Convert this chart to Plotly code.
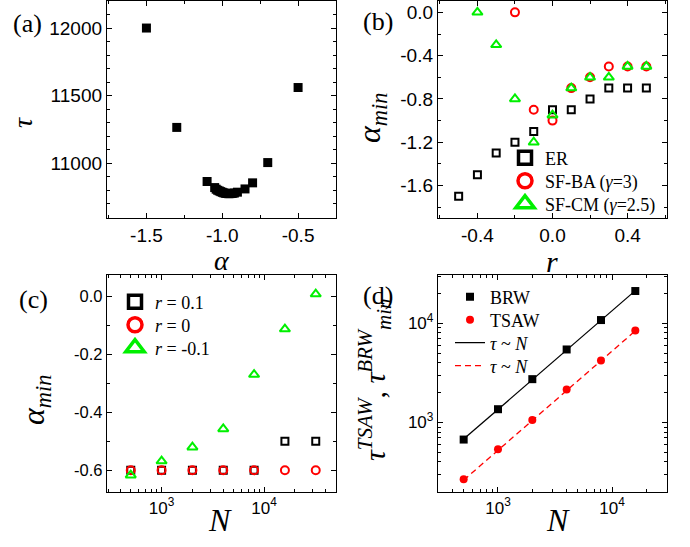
import plotly.graph_objects as go

# ---------------- data ----------------
# (a) tau vs alpha
a_alpha = [-1.5, -1.3, -1.1, -1.05, -1.04, -1.03, -1.02, -1.01, -1.0, -0.99, -0.98, -0.97,
           -0.96, -0.95, -0.94, -0.93, -0.92, -0.9, -0.85, -0.8, -0.7, -0.5]
a_tau = [12000, 11265, 10865, 10820, 10808, 10800, 10795, 10790, 10785, 10781, 10778, 10776,
         10775, 10775, 10776, 10778, 10780, 10786, 10810, 10855, 11005, 11560]

# (b) alpha_min vs r
b_r_er = [-0.5, -0.4, -0.3, -0.2, -0.1, 0.0, 0.1, 0.2, 0.3, 0.4, 0.5]
b_er = [-1.7, -1.5, -1.3, -1.2, -1.1, -0.9, -0.9, -0.8, -0.7, -0.7, -0.7]
b_r_ba = [-0.2, -0.1, 0.0, 0.1, 0.2, 0.3, 0.4, 0.5]
b_ba = [0.0, -0.9, -1.0, -0.7, -0.6, -0.5, -0.5, -0.5]
b_r_cm = [-0.4, -0.3, -0.2, -0.1, 0.0, 0.1, 0.2, 0.3, 0.4, 0.5]
b_cm = [0.0, -0.3, -0.8, -1.2, -0.95, -0.7, -0.6, -0.6, -0.5, -0.5]

# (c) alpha_min vs N
c_N = [500, 1000, 2000, 4000, 8000, 16000, 32000]
c_r01 = [-0.6, -0.6, -0.6, -0.6, -0.6, -0.5, -0.5]
c_r0 = [-0.6, -0.6, -0.6, -0.6, -0.6, -0.6, -0.6]
c_rm01 = [-0.617, -0.568, -0.52, -0.457, -0.269, -0.112, 0.009]

# (d) tau_min vs N
d_N = [500, 1000, 2000, 4000, 8000, 16000]
d_brw = [673, 1362, 2737, 5455, 10800, 21200]
d_tsaw = [267, 537, 1062, 2152, 4229, 8490]
d_fit_N = [500, 16000]
d_fit_brw = [680, 21400]
d_fit_tsaw = [262, 8400]

# tick labels
a_xticks = [-1.5, -1.0, -0.5]
a_xtext = ["-1.5", "-1.0", "-0.5"]
a_yticks = [11000, 11500, 12000]
a_ytext = ["11000", "11500", "12000"]
b_xticks = [-0.4, 0.0, 0.4]
b_xtext = ["-0.4", "0.0", "0.4"]
b_yticks = [-1.6, -1.2, -0.8, -0.4, 0.0]
b_ytext = ["-1.6", "-1.2", "-0.8", "-0.4", "0.0"]
c_yticks = [-0.6, -0.4, -0.2, 0.0]
c_ytext = ["-0.6", "-0.4", "-0.2", "0.0"]
log_ticks = [1000, 10000]
log_text = ["10<sup>3</sup>", "10<sup>4</sup>"]

# legend entries
b_leg_names = ["ER", "SF-BA (<i>γ</i>=3)", "SF-CM (<i>γ</i>=2.5)"]
c_leg_names = ["<i>r</i> = 0.1", "<i>r</i> = 0", "<i>r</i> = -0.1"]
d_leg_names = ["BRW", "TSAW", "<i>τ</i> ~ <i>N</i>", "<i>τ</i> ~ <i>N</i>"]

# ---------------- styling ----------------
W, H = 690, 547
SANS = "Liberation Sans, Arial, sans-serif"
SERIF = "Liberation Serif, Times New Roman, serif"
RED = "#FF0000"
GREEN = "#00F000"


def dx(x0, x1):
    return [x0 / W, x1 / W]


def dy(y0, y1):
    return [1 - y1 / H, 1 - y0 / H]


fig = go.Figure()
legends = {}


def leg_id(k):
    return "legend" if k == 1 else "legend%d" % k


def add_legend(k, left_px, row_px):
    legends[leg_id(k)] = dict(x=left_px / W, y=1 - row_px / H, xanchor="left", yanchor="middle",
                              bgcolor="rgba(0,0,0,0)",
                              font=dict(family=SERIF, size=18, color="black"),
                              itemsizing="trace")


# (a)
fig.add_trace(go.Scatter(x=a_alpha, y=a_tau, mode="markers", showlegend=False,
                         marker=dict(symbol="square", size=9, color="black"),
                         xaxis="x", yaxis="y"))

# (b)
fig.add_trace(go.Scatter(x=b_r_er, y=b_er, mode="markers", showlegend=False,
                         marker=dict(symbol="square-open", size=7, color="black", line=dict(width=2)),
                         xaxis="x2", yaxis="y2"))
fig.add_trace(go.Scatter(x=b_r_ba, y=b_ba, mode="markers", showlegend=False,
                         marker=dict(symbol="circle-open", size=8, color=RED, line=dict(width=2)),
                         xaxis="x2", yaxis="y2"))
fig.add_trace(go.Scatter(x=b_r_cm, y=b_cm, mode="markers", showlegend=False,
                         marker=dict(symbol="triangle-up-open", size=9, color=GREEN, line=dict(width=2)),
                         xaxis="x2", yaxis="y2"))
b_rows = [158, 181, 204]
for i, (sym, col, sz) in enumerate([("square-open", "black", 13),
                                    ("circle-open", RED, 14),
                                    ("triangle-up-open", GREEN, 16)]):
    k = 1 + i
    add_legend(k, 505, b_rows[i])
    fig.add_trace(go.Scatter(x=[None], y=[None], mode="markers", name=b_leg_names[i], legend=leg_id(k),
                             marker=dict(symbol=sym, size=sz, color=col, line=dict(width=3.5)),
                             xaxis="x2", yaxis="y2"))

# (c)
fig.add_trace(go.Scatter(x=c_N, y=c_r01, mode="markers", showlegend=False,
                         marker=dict(symbol="square-open", size=7, color="black", line=dict(width=2)),
                         xaxis="x3", yaxis="y3"))
fig.add_trace(go.Scatter(x=c_N, y=c_r0, mode="markers", showlegend=False,
                         marker=dict(symbol="circle-open", size=8, color=RED, line=dict(width=2)),
                         xaxis="x3", yaxis="y3"))
fig.add_trace(go.Scatter(x=c_N, y=c_rm01, mode="markers", showlegend=False,
                         marker=dict(symbol="triangle-up-open", size=9, color=GREEN, line=dict(width=2)),
                         xaxis="x3", yaxis="y3"))
c_rows = [302, 325, 348]
for i, (sym, col, sz) in enumerate([("square-open", "black", 13),
                                    ("circle-open", RED, 14),
                                    ("triangle-up-open", GREEN, 16)]):
    k = 4 + i
    add_legend(k, 115, c_rows[i])
    fig.add_trace(go.Scatter(x=[None], y=[None], mode="markers", name=c_leg_names[i], legend=leg_id(k),
                             marker=dict(symbol=sym, size=sz, color=col, line=dict(width=3.5)),
                             xaxis="x3", yaxis="y3"))

# (d)
d_rows = [297, 320, 343, 366]
for i in range(4):
    add_legend(7 + i, 450, d_rows[i])
fig.add_trace(go.Scatter(x=d_fit_N, y=d_fit_brw, mode="lines", showlegend=False,
                         line=dict(color="black", width=1.3), xaxis="x4", yaxis="y4"))
fig.add_trace(go.Scatter(x=d_fit_N, y=d_fit_tsaw, mode="lines", showlegend=False,
                         line=dict(color=RED, width=1.3, dash="6px,4px"), xaxis="x4", yaxis="y4"))
fig.add_trace(go.Scatter(x=d_N, y=d_brw, mode="markers", name=d_leg_names[0], legend=leg_id(7),
                         marker=dict(symbol="square", size=8, color="black"),
                         xaxis="x4", yaxis="y4"))
fig.add_trace(go.Scatter(x=d_N, y=d_tsaw, mode="markers", name=d_leg_names[1], legend=leg_id(8),
                         marker=dict(symbol="circle", size=8, color=RED),
                         xaxis="x4", yaxis="y4"))
fig.add_trace(go.Scatter(x=[None], y=[None], mode="lines", name=d_leg_names[2], legend=leg_id(9),
                         line=dict(color="black", width=1.3), xaxis="x4", yaxis="y4"))
fig.add_trace(go.Scatter(x=[None], y=[None], mode="lines", name=d_leg_names[3], legend=leg_id(10),
                         line=dict(color=RED, width=1.3, dash="6px,4px"), xaxis="x4", yaxis="y4"))


def axis_common(fs):
    return dict(showline=True, mirror="ticks", linecolor="black", linewidth=1.3,
                ticks="inside", ticklen=5, tickwidth=1.2, tickcolor="black",
                showgrid=False, zeroline=False,
                tickfont=dict(family=SANS, size=fs, color="black"))


minor_common = dict(ticks="inside", ticklen=3, tickcolor="black", tickwidth=1)

LX = dx(107, 336)
RX = dx(438, 667)
TY = dy(1, 218)
BY = dy(275, 492)

fig.update_layout(
    width=W, height=H,
    margin=dict(l=0, r=0, t=0, b=0),
    paper_bgcolor="white", plot_bgcolor="white",
    xaxis=dict(axis_common(19), domain=LX, anchor="y", range=[-1.76, -0.25],
               tickmode="array", tickvals=a_xticks, ticktext=a_xtext,
               minor=dict(minor_common, dtick=0.25, tick0=0)),
    yaxis=dict(axis_common(19), domain=TY, anchor="x", range=[10595, 12200],
               tickmode="array", tickvals=a_yticks, ticktext=a_ytext,
               minor=dict(minor_common, dtick=100, tick0=0)),
    xaxis2=dict(axis_common(19), domain=RX, anchor="y2", range=[-0.61, 0.61],
                tickmode="array", tickvals=b_xticks, ticktext=b_xtext,
                minor=dict(minor_common, dtick=0.2, tick0=0)),
    yaxis2=dict(axis_common(19), domain=TY, anchor="x2", range=[-1.9, 0.105],
                tickmode="array", tickvals=b_yticks, ticktext=b_ytext,
                minor=dict(minor_common, dtick=0.2, tick0=0)),
    xaxis3=dict(axis_common(17), domain=LX, anchor="y3", type="log", range=[2.467, 4.703],
                tickmode="array", tickvals=log_ticks, ticktext=log_text,
                minor=dict(minor_common, dtick="D1")),
    yaxis3=dict(axis_common(16.5), domain=BY, anchor="x3", range=[-0.675, 0.075],
                tickmode="array", tickvals=c_yticks, ticktext=c_ytext,
                minor=dict(minor_common, dtick=0.1, tick0=0)),
    xaxis4=dict(axis_common(17), domain=RX, anchor="y4", type="log", range=[2.474, 4.482],
                tickmode="array", tickvals=log_ticks, ticktext=log_text,
                minor=dict(minor_common, dtick="D1")),
    yaxis4=dict(axis_common(17), domain=BY, anchor="x4", type="log", range=[2.299, 4.488],
                tickmode="array", tickvals=log_ticks, ticktext=log_text,
                minor=dict(minor_common, dtick="D1")),
    **legends,
)


def ann(text, px, py, size, angle=0):
    fig.add_annotation(text=text, x=px / W, y=1 - py / H, xref="paper", yref="paper",
                       showarrow=False, textangle=angle, xanchor="center", yanchor="middle",
                       font=dict(family=SERIF, size=size, color="black"))


# panel labels
ann("(a)", 28, 24, 26)
ann("(b)", 378, 21, 26)
ann("(c)", 33, 299, 26)
ann("(d)", 378, 295, 26)

# axis titles
ann("<i>α</i>", 222, 260, 28)
ann("<i>τ</i>", 23, 123, 28, -90)
ann("<i>r</i>", 552, 261, 30)
ann("<i>α</i><sub><i>min</i></sub>", 372, 118, 32, -90)
ann("<i>N</i>", 220, 520, 32)
ann("<i>α</i><sub><i>min</i></sub>", 35, 400, 32, -90)
ann("<i>N</i>", 558, 520, 32)
ann("<i>τ</i><sup><i>TSAW</i></sup>, <i>τ</i><sup><i>BRW</i></sup><sub><i>min</i></sub>", 374, 380, 30, -90)

fig.write_html("out.html", config={"displayModeBar": False},
               post_script="document.body.style.margin='0px';document.body.style.overflow='hidden';")
